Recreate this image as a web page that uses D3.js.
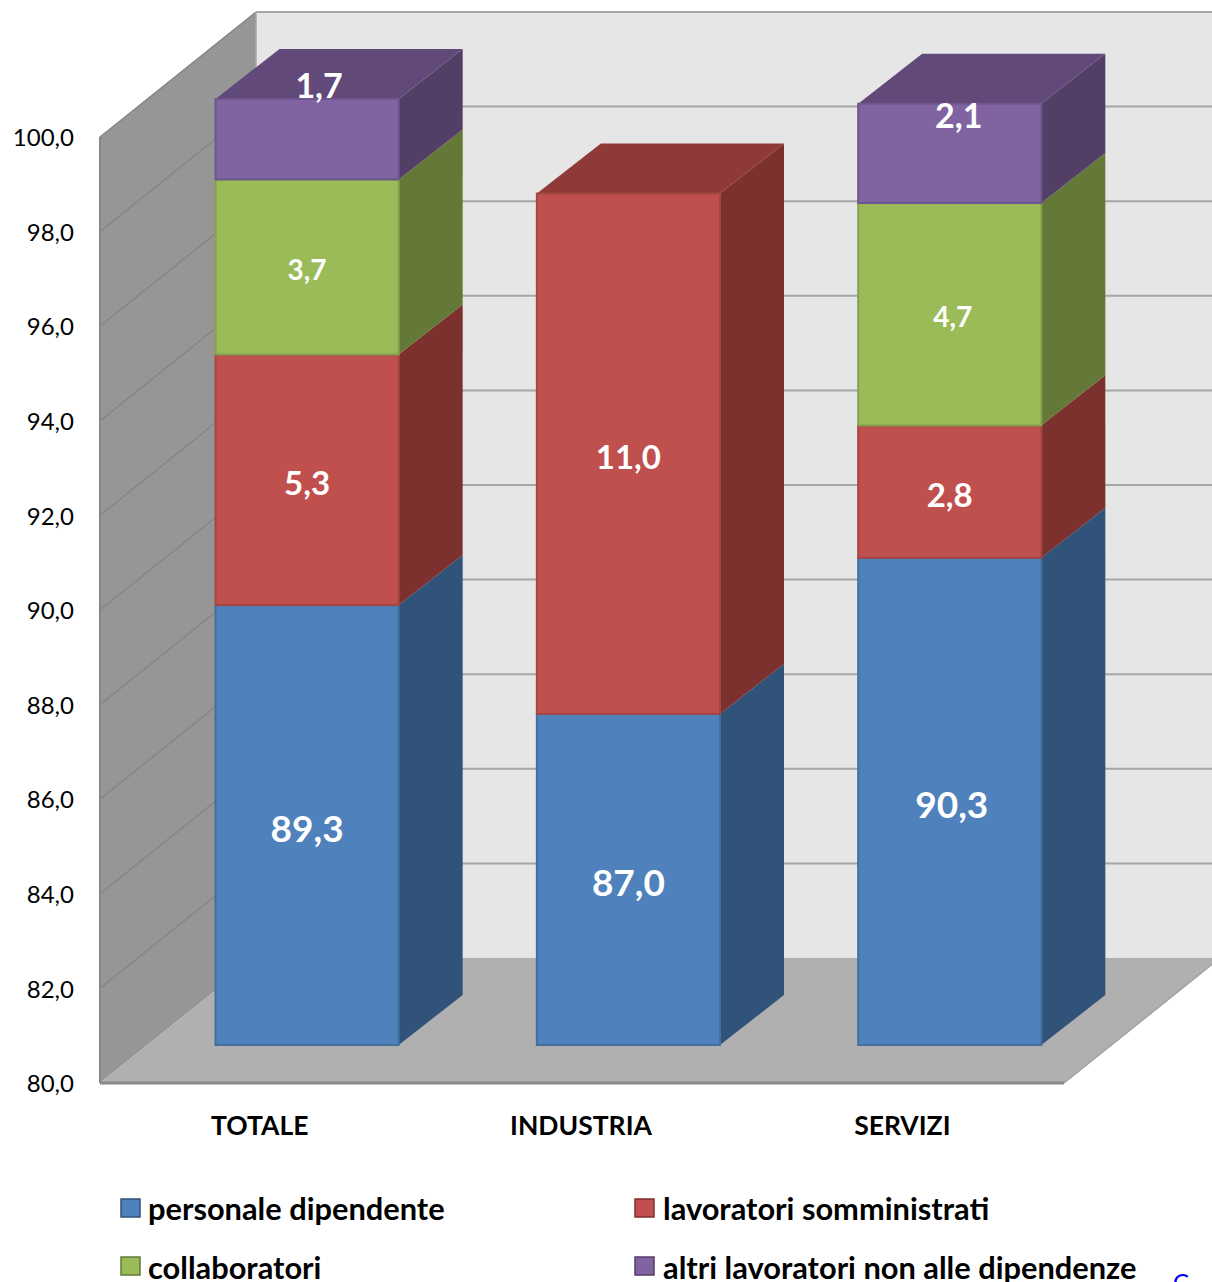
<!DOCTYPE html>
<html>
<head>
<meta charset="utf-8">
<script src="https://d3js.org/d3.v7.min.js"></script>
<style>
  body { margin: 0; background: #fff; overflow: hidden; }
  text { font-family: Lato, "Open Sans", sans-serif; }
</style>
</head>
<body>
<div id="chart"></div>
<script>
var categories = ["TOTALE", "INDUSTRIA", "SERVIZI"];
var seriesNames = ["personale dipendente", "lavoratori somministrati", "collaboratori", "altri lavoratori non alle dipendenze"];
var personale = [89.3, 87.0, 90.3];
var somministrati = [5.3, 11.0, 2.8];
var collaboratori = [3.7, 0, 4.7];
var altri = [1.7, 0, 2.1];
var yTicks = [80, 82, 84, 86, 88, 90, 92, 94, 96, 98, 100];

var svgWidth = 1212;
var svgHeight = 1282;

// front of the box on the page, depth goes up and to the right
var plot = { left: 100, right: 1064, bottom: 1083, top: 137 };
var depthX = 156;
var depthY = 125;
var barFront = 0.304;
var barBack = 0.704;
var barDepthX = 64;

var colors = [
  { front: "#4f81bd", side: "#31537a", top: "#3a5f8c", edge: "#44709f" },
  { front: "#c0504d", side: "#7c312f", top: "#8f3a38", edge: "#a54643" },
  { front: "#9bbb59", side: "#647837", top: "#728a40", edge: "#86a24c" },
  { front: "#8064a2", side: "#533e66", top: "#614a79", edge: "#6f578d" }
];

var labelSizes = [37, 33, 28, 34];
var labelNudge = { "TOTALE-3": [12, -57], "SERVIZI-3": [9, -41], "TOTALE-2": [0, -1], "SERVIZI-2": [3, -1], "SERVIZI-0": [2, 0] };

var svg = d3.select("#chart")
  .append("svg")
  .attr("width", svgWidth)
  .attr("height", svgHeight)
  .style("display", "block");

var x = d3.scaleBand()
  .domain(categories)
  .range([plot.left - 1, plot.right - 1])
  .paddingInner(0.43)
  .paddingOuter(0.215);

var y = d3.scaleLinear()
  .domain([80, 100])
  .range([plot.bottom, plot.top]);

function px(xVal, depth) { return xVal + depthX * depth; }
function py(yVal, depth) { return yVal - depthY * depth; }
function backX(xVal) { return px(xVal, barFront) + barDepthX; }

function poly(points) {
  return points.map(function(p) { return p.join(","); }).join(" ");
}

// walls and floor
svg.append("polygon")
  .attr("fill", "#969696")
  .attr("points", poly([
    [plot.left, y(100)], [px(plot.left, 1), py(y(100), 1)],
    [px(plot.left, 1), py(y(80), 1)], [plot.left, y(80)]
  ]));

svg.append("polygon")
  .attr("fill", "#e6e6e6")
  .attr("points", poly([
    [px(plot.left, 1), py(y(100), 1)], [px(plot.right, 1), py(y(100), 1)],
    [px(plot.right, 1), py(y(80), 1)], [px(plot.left, 1), py(y(80), 1)]
  ]));

svg.append("polygon")
  .attr("fill", "#b0b0b0")
  .attr("points", poly([
    [plot.left, y(80)], [plot.right, y(80)],
    [px(plot.right, 1), py(y(80), 1)], [px(plot.left, 1), py(y(80), 1)]
  ]));

// gridlines, along the left wall then across the back
var grid = svg.append("g");

grid.selectAll(".wallLine")
  .data(yTicks.slice(1))
  .enter()
  .append("line")
  .attr("x1", plot.left)
  .attr("y1", function(d) { return y(d); })
  .attr("x2", px(plot.left, 1))
  .attr("y2", function(d) { return py(y(d), 1); })
  .attr("stroke", "#868686")
  .attr("stroke-width", 1.5);

grid.selectAll(".backLine")
  .data(yTicks.slice(1))
  .enter()
  .append("line")
  .attr("x1", px(plot.left, 1))
  .attr("y1", function(d) { return py(y(d), 1); })
  .attr("x2", px(plot.right, 1))
  .attr("y2", function(d) { return py(y(d), 1); })
  .attr("stroke", "#a6a6a6")
  .attr("stroke-width", 2);

svg.append("line")
  .attr("x1", px(plot.left, 1))
  .attr("y1", py(y(100), 1))
  .attr("x2", px(plot.left, 1))
  .attr("y2", py(y(80), 1))
  .attr("stroke", "#a6a6a6")
  .attr("stroke-width", 1.5);

svg.append("line")
  .attr("x1", plot.left)
  .attr("y1", y(100))
  .attr("x2", plot.left)
  .attr("y2", y(80))
  .attr("stroke", "#868686")
  .attr("stroke-width", 2);

svg.append("line")
  .attr("x1", plot.left)
  .attr("y1", y(80))
  .attr("x2", plot.right)
  .attr("y2", y(80))
  .attr("stroke", "#8a8a8a")
  .attr("stroke-width", 3);

svg.append("line")
  .attr("x1", plot.right)
  .attr("y1", y(80))
  .attr("x2", px(plot.right, 1))
  .attr("y2", py(y(80), 1))
  .attr("stroke", "#a0a0a0")
  .attr("stroke-width", 1.5);

// stacked bars
var table = categories.map(function(c, i) {
  return { category: c, s0: personale[i], s1: somministrati[i], s2: collaboratori[i], s3: altri[i] };
});

var stack = d3.stack().keys(["s0", "s1", "s2", "s3"]);
var stacked = stack(table);

var bars = svg.append("g");
var labels = [];

categories.forEach(function(cat, c) {
  var x0 = x(cat);
  var x1 = x0 + x.bandwidth();
  var topSeries = d3.max(stacked, function(s, i) { return s[c][1] > s[c][0] ? i : -1; });

  stacked.forEach(function(s, i) {
    var v0 = s[c][0], v1 = s[c][1];
    if (v1 <= v0) return;

    // stack starts from the axis minimum, first value is a height from 80
    var yLow = i === 0 ? y(80) : y(v0);
    var yHigh = y(v1);
    var col = colors[i];

    bars.append("polygon")
      .attr("fill", col.side)
      .attr("points", poly([
        [px(x1, barFront), py(yLow, barFront)], [backX(x1), py(yLow, barBack)],
        [backX(x1), py(yHigh, barBack)], [px(x1, barFront), py(yHigh, barFront)]
      ]));

    if (i === topSeries) {
      bars.append("polygon")
        .attr("fill", col.top)
        .attr("points", poly([
          [px(x0, barFront), py(yHigh, barFront)], [px(x1, barFront), py(yHigh, barFront)],
          [backX(x1), py(yHigh, barBack)], [backX(x0), py(yHigh, barBack)]
        ]));
    }

    bars.append("rect")
      .attr("x", px(x0, barFront))
      .attr("y", py(yHigh, barFront))
      .attr("width", x.bandwidth())
      .attr("height", yLow - yHigh)
      .attr("fill", col.front)
      .attr("stroke", col.edge)
      .attr("stroke-width", 2);

    var nudge = labelNudge[cat + "-" + i] || [0, 0];
    labels.push({
      text: d3.format(".1f")(v1 - v0).replace(".", ","),
      x: px((x0 + x1) / 2, barFront) + nudge[0],
      y: py((yLow + yHigh) / 2, barFront) + nudge[1] + 4,
      size: labelSizes[i]
    });
  });
});

svg.append("g")
  .selectAll("text")
  .data(labels)
  .enter()
  .append("text")
  .attr("x", function(d) { return d.x; })
  .attr("y", function(d) { return d.y; })
  .attr("dy", "0.35em")
  .attr("text-anchor", "middle")
  .attr("font-weight", 700)
  .attr("font-size", function(d) { return d.size; })
  .attr("fill", "#fff")
  .text(function(d) { return d.text; });

// axes
var leftAxis = d3.axisLeft(y)
  .tickValues(yTicks)
  .tickSize(0)
  .tickPadding(26)
  .tickFormat(function(d) { return d3.format(".1f")(d).replace(".", ","); });

var yAxis = svg.append("g")
  .attr("transform", "translate(" + plot.left + ",1)")
  .call(leftAxis);
yAxis.select(".domain").remove();
yAxis.selectAll("text")
  .attr("font-size", 24)
  .attr("fill", "#000");

var bottomAxis = d3.axisBottom(x).tickSize(0).tickPadding(33);

var xAxis = svg.append("g")
  .attr("transform", "translate(0," + plot.bottom + ")")
  .call(bottomAxis);
xAxis.select(".domain").remove();
xAxis.selectAll("text")
  .attr("font-size", 26.5)
  .attr("font-weight", 700)
  .attr("fill", "#000");
svg.selectAll(".tick text").style("font-family", "Lato, sans-serif");

// legend
var legendSpots = [[121, 1199], [635, 1199], [121, 1257], [635, 1257]];

var legend = svg.append("g")
  .selectAll("g")
  .data(seriesNames)
  .enter()
  .append("g")
  .attr("transform", function(d, i) { return "translate(" + legendSpots[i][0] + "," + legendSpots[i][1] + ")"; });

legend.append("rect")
  .attr("width", 19)
  .attr("height", 18)
  .attr("fill", function(d, i) { return colors[i].front; })
  .attr("stroke", function(d, i) { return colors[i].side; })
  .attr("stroke-width", 1.5);

legend.append("text")
  .attr("x", function(d, i) { return i % 2 ? 28 : 27; })
  .attr("y", function(d, i) { return i < 2 ? 21 : 21.5; })
  .attr("font-size", 30.8)
  .attr("font-weight", 700)
  .attr("fill", "#000")
  .text(function(d) { return d; });

// cut off link text in the corner
svg.append("text")
  .attr("x", 1173)
  .attr("y", 1291)
  .attr("font-size", 24)
  .attr("fill", "#0000ff")
  .text("C");
</script>
</body>
</html>
